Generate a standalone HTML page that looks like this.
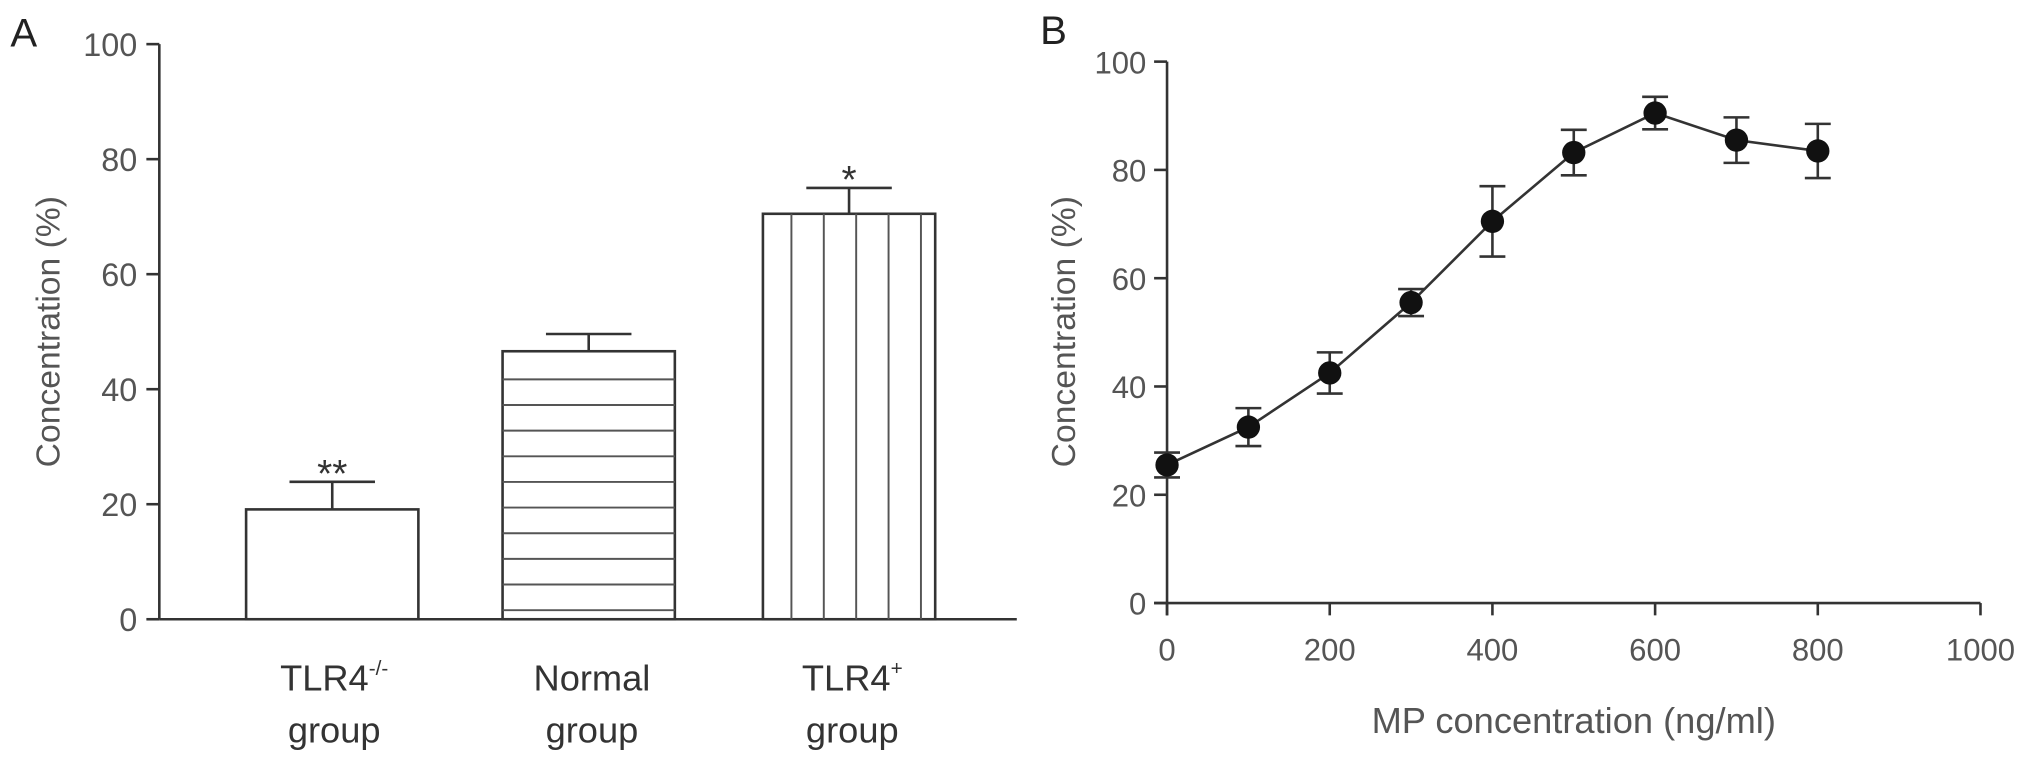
<!DOCTYPE html>
<html><head><meta charset="utf-8"><style>
html,body{margin:0;padding:0;background:#fff;}
svg{display:block;font-family:"Liberation Sans",Arial,sans-serif;}
</style></head><body>
<svg id="fig" width="2031" height="767" viewBox="0 0 1568 592" xmlns="http://www.w3.org/2000/svg">
<g id="pa"></g>
<g id="pb"></g>
</svg>
<script>
// Panel A data
const groupsA = ["TLR4-/-", "Normal", "TLR4+"];
const meansA = [19.1, 46.6, 70.5];
const errA = [4.8, 3.0, 4.5];
const sigA = ["**", "", "*"];
const ticksA = [0, 20, 40, 60, 80, 100];
// Panel B data
const dosesB = [0, 100, 200, 300, 400, 500, 600, 700, 800];
const meansB = [25.5, 32.5, 42.5, 55.5, 70.5, 83.2, 90.5, 85.5, 83.5];
const errB = [2.3, 3.5, 3.8, 2.5, 6.5, 4.2, 3.0, 4.2, 5.0];
const yTicksB = [0, 20, 40, 60, 80, 100];
const xTicksB = [0, 200, 400, 600, 800, 1000];

const NS = "http://www.w3.org/2000/svg";
const C = "#333", T = "#555";
function mk(parent, tag, attrs, text) {
  const e = document.createElementNS(NS, tag);
  for (const k in attrs) e.setAttribute(k, attrs[k]);
  if (text !== undefined) e.textContent = text;
  parent.appendChild(e);
  return e;
}
// ---- Panel A
const pa = document.getElementById("pa");
const yA = v => 478 - v * 4.44;
const barX = [190, 388, 589], barW = 133;
let e;
e = mk(pa, "text", {x: 8, y: 36, "font-size": 31, fill: "#222"}, "A");


e = mk(pa, "line", {x1: 123, y1: 34, x2: 123, y2: 478, stroke: C, "stroke-width": 2});


e = mk(pa, "line", {x1: 123, y1: 478, x2: 785, y2: 478, stroke: C, "stroke-width": 2});


ticksA.forEach(t => {
  const y = yA(t);
  e = mk(pa, "line", {x1: 113, y1: y, x2: 123, y2: y, stroke: C, "stroke-width": 2});
  
  
  e = mk(pa, "text", {x: 106, y: y + 9, "font-size": 25, fill: T, "text-anchor": "end"}, t);
  
  
});
e = mk(pa, "text", {x: 0, y: 0, "font-size": 26, fill: T, "text-anchor": "middle", transform: "translate(46,256) rotate(-90)"}, "Concentration (%)");


groupsA.forEach((g, i) => {
  const x = barX[i], top = yA(meansA[i]), et = yA(meansA[i] + errA[i]), cx = x + barW / 2;
  e = mk(pa, "line", {x1: cx, y1: top, x2: cx, y2: et, stroke: C, "stroke-width": 2});
  
  
  e = mk(pa, "line", {x1: cx - 33, y1: et, x2: cx + 33, y2: et, stroke: C, "stroke-width": 2});
  
  
  e = mk(pa, "rect", {x: x, y: top, width: barW, height: 478 - top, fill: "#fff", stroke: C, "stroke-width": 2});
  
  
  if (i === 1) {
    for (let y = 478 - 7; y > top + 5; y -= 19.8) {
      e = mk(pa, "line", {x1: x, y1: y, x2: x + barW, y2: y, stroke: "#555", "stroke-width": 1.5});
      
      
    }
  }
  if (i === 2) {
    for (let xx = x + 22; xx < x + barW - 4; xx += 25) {
      e = mk(pa, "line", {x1: xx, y1: top, x2: xx, y2: 478, stroke: "#555", "stroke-width": 1.5});
      
      
    }
  }
  if (sigA[i]) {
    e = mk(pa, "text", {x: cx, y: et + 4, "font-size": 30, fill: "#333", "text-anchor": "middle"}, sigA[i]);
    
    
  }
});
function catLabel(x, main, sup) {
  const t = mk(pa, "text", {x: x, y: 533, "font-size": 28, fill: "#333", "text-anchor": "middle"});
  
  
  mk(t, "tspan", {}, main);
  if (sup) mk(t, "tspan", {"font-size": 16, dy: -12}, sup);
  const t2 = mk(pa, "text", {x: x, y: 573, "font-size": 28, fill: "#333", "text-anchor": "middle"}, "group");
  
  
}
catLabel(258, "TLR4", "-/-");
catLabel(457, "Normal", "");
catLabel(658, "TLR4", "+");

// ---- Panel B
const pb = document.getElementById("pb");
const xB = v => 901 + v * 0.628;
const yB = v => 465.5 - v * 4.18;
e = mk(pb, "text", {x: 803, y: 34, "font-size": 31, fill: "#222"}, "B");


e = mk(pb, "line", {x1: 901, y1: yB(100), x2: 901, y2: 475, stroke: C, "stroke-width": 2});


e = mk(pb, "line", {x1: 891, y1: 465.5, x2: xB(1000), y2: 465.5, stroke: C, "stroke-width": 2});


yTicksB.forEach(t => {
  const y = yB(t);
  e = mk(pb, "line", {x1: 891, y1: y, x2: 901, y2: y, stroke: C, "stroke-width": 2});
  
  
  e = mk(pb, "text", {x: 885, y: y + 9, "font-size": 24, fill: T, "text-anchor": "end"}, t);
  
  
});
xTicksB.forEach(t => {
  const x = xB(t);
  e = mk(pb, "line", {x1: x, y1: 465.5, x2: x, y2: 475, stroke: C, "stroke-width": 2});
  
  
  e = mk(pb, "text", {x: x, y: 510, "font-size": 24, fill: T, "text-anchor": "middle"}, t);
  
  
});
e = mk(pb, "text", {x: 0, y: 0, "font-size": 26, fill: T, "text-anchor": "middle", transform: "translate(830,256) rotate(-90)"}, "Concentration (%)");


e = mk(pb, "text", {x: 1215, y: 566, "font-size": 28, fill: T, "text-anchor": "middle"}, "MP concentration (ng/ml)");


e = mk(pb, "polyline", {points: dosesB.map((d, i) => xB(d) + "," + yB(meansB[i])).join(" "), fill: "none", stroke: C, "stroke-width": 2});


dosesB.forEach((d, i) => {
  const x = xB(d), y1 = yB(meansB[i] - errB[i]), y2 = yB(meansB[i] + errB[i]);
  e = mk(pb, "line", {x1: x, y1: y1, x2: x, y2: y2, stroke: C, "stroke-width": 2});
  
  
  [y1, y2].forEach(y => {
    e = mk(pb, "line", {x1: x - 10, y1: y, x2: x + 10, y2: y, stroke: C, "stroke-width": 2});
    
    
  });
  e = mk(pb, "circle", {cx: x, cy: yB(meansB[i]), r: 9, fill: "#111"});
  
  
});
</script>
</body></html>
